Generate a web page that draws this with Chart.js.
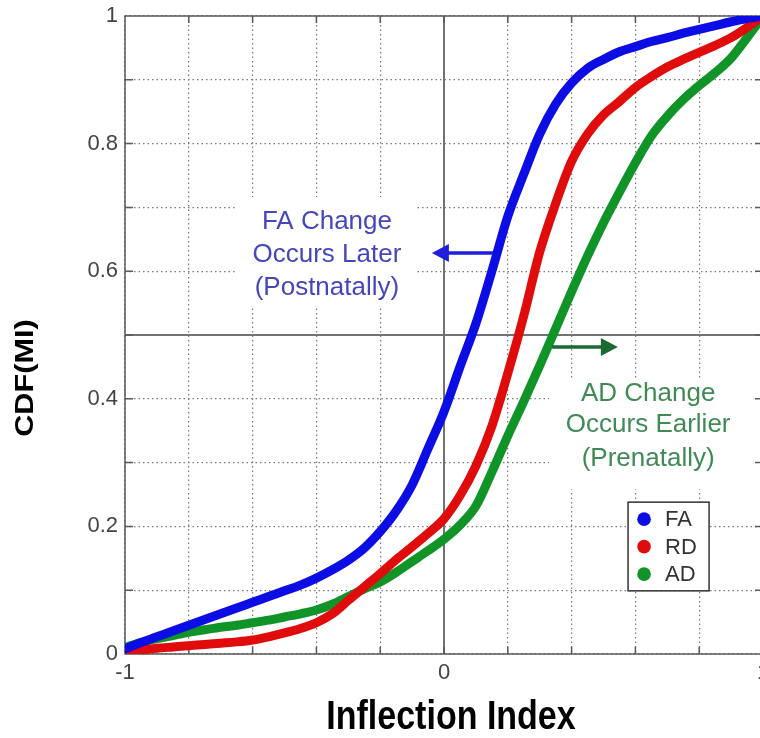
<!DOCTYPE html>
<html><head><meta charset="utf-8">
<script src="https://cdn.jsdelivr.net/npm/chart.js@4.4.1/dist/chart.umd.min.js"></script>
<style>
html,body{margin:0;padding:0;background:#fff;overflow:hidden;width:760px;height:738px}
#wrap{position:relative;width:770px;height:738px}
canvas{display:block}
</style>
</head><body><div id="wrap"><canvas id="c" width="770" height="738"></canvas></div>
<script>
// ---------- data ----------
const inflectionIndex = [-1,-0.95,-0.9,-0.85,-0.8,-0.75,-0.7,-0.65,-0.6,-0.55,-0.5,-0.45,-0.4,-0.35,-0.3,-0.25,-0.2,-0.15,-0.1,-0.05,0,0.05,0.1,0.15,0.2,0.25,0.3,0.35,0.4,0.45,0.5,0.55,0.6,0.65,0.7,0.75,0.8,0.85,0.9,0.95,1];
const cdfFA = [0.008,0.018,0.027,0.036,0.045,0.054,0.063,0.072,0.081,0.090,0.099,0.108,0.119,0.132,0.147,0.166,0.192,0.224,0.265,0.322,0.38,0.45,0.518,0.60,0.686,0.752,0.815,0.862,0.895,0.918,0.932,0.944,0.952,0.960,0.966,0.973,0.979,0.985,0.991,0.996,1.0];
const cdfRD = [0.002,0.006,0.009,0.011,0.013,0.015,0.017,0.019,0.022,0.027,0.033,0.040,0.049,0.063,0.084,0.105,0.126,0.148,0.168,0.189,0.212,0.248,0.295,0.357,0.44,0.53,0.63,0.706,0.772,0.815,0.845,0.866,0.888,0.905,0.92,0.932,0.943,0.954,0.966,0.982,1.0];
const cdfAD = [0.010,0.018,0.024,0.029,0.034,0.038,0.042,0.045,0.049,0.053,0.058,0.063,0.069,0.078,0.090,0.102,0.113,0.128,0.145,0.162,0.180,0.202,0.232,0.285,0.342,0.396,0.452,0.51,0.568,0.624,0.676,0.724,0.77,0.812,0.843,0.869,0.891,0.911,0.934,0.966,1.0];
const seriesLabels = ['FA','RD','AD'];
const xTickLabelValues = [-1,0,1];
const yTickLabelValues = [0,0.2,0.4,0.6,0.8,1];
const xTitle = 'Inflection Index';
const yTitle = 'CDF(MI)';
const faNote = ['FA Change','Occurs Later','(Postnatally)'];
const adNote = ['AD Change','Occurs Earlier','(Prenatally)'];

// ---------- styles ----------
const FONT = "'Liberation Sans', Arimo, Arial, Helvetica, sans-serif";
const colors = ['#0c0ce4','#e00c0c','#109428'];
const DOT = [1.5, 3];
const near = (a,b)=>Math.abs(a-b)<1e-6;

const makeSeries = ys => inflectionIndex.map((x,i)=>({x, y: ys[i]}));

const decor = {
  id: 'decor',
  beforeDatasetsDraw(chart) {
    const {ctx, chartArea: a, scales: {x, y}} = chart;
    ctx.save();
    ctx.strokeStyle = '#727272'; ctx.lineWidth = 2;
    ctx.beginPath();
    ctx.moveTo(x.getPixelForValue(0), a.top); ctx.lineTo(x.getPixelForValue(0), a.bottom);
    ctx.moveTo(a.left, y.getPixelForValue(0.5)); ctx.lineTo(a.right, y.getPixelForValue(0.5));
    ctx.stroke();
    ctx.fillStyle = '#fff';
    const box = (x0,x1,y0,y1) => {
      const px0 = x.getPixelForValue(x0), px1 = x.getPixelForValue(x1);
      const py0 = y.getPixelForValue(y0), py1 = y.getPixelForValue(y1);
      ctx.fillRect(px0, py0, px1-px0, py1-py0);
    };
    box(-0.65, -0.09, 0.716, 0.545);
    box(0.33, 1.05, 0.43, 0.258);
    ctx.strokeStyle = '#5a5a5a'; ctx.lineWidth = 1.5;
    ctx.strokeRect(a.left, a.top, a.right - a.left, a.bottom - a.top);
    ctx.beginPath();
    for (let v = 0.1; v < 0.95; v += 0.1) {
      const py = y.getPixelForValue(v);
      ctx.moveTo(a.left, py); ctx.lineTo(a.left + 8, py);
      ctx.moveTo(a.right, py); ctx.lineTo(a.right - 8, py);
    }
    for (let v = -0.8; v < 0.9; v += 0.2) {
      const px = x.getPixelForValue(v);
      ctx.moveTo(px, a.bottom); ctx.lineTo(px, a.bottom - 7);
      ctx.moveTo(px, a.top); ctx.lineTo(px, a.top + 7);
    }
    ctx.stroke();
    ctx.font = '26px ' + FONT;
    ctx.textAlign = 'center'; ctx.textBaseline = 'middle';
    ctx.fillStyle = '#4646bc';
    const faY = [0.677, 0.626, 0.574];
    faNote.forEach((t,i)=>ctx.fillText(t, x.getPixelForValue(-0.367), y.getPixelForValue(faY[i])));
    ctx.fillStyle = '#3f8a55';
    const adY = [0.4075, 0.359, 0.306];
    adNote.forEach((t,i)=>ctx.fillText(t, x.getPixelForValue(0.64), y.getPixelForValue(adY[i])));
    ctx.restore();
  },
  afterDatasetsDraw(chart) {
    const {ctx, scales: {x, y}} = chart;
    ctx.save();
    const arrow = (xs, xe, yv, col) => {
      const p0 = x.getPixelForValue(xs), p1 = x.getPixelForValue(xe), py = y.getPixelForValue(yv);
      const dir = Math.sign(p1 - p0);
      ctx.strokeStyle = col; ctx.fillStyle = col; ctx.lineWidth = 3.5;
      ctx.beginPath(); ctx.moveTo(p0, py); ctx.lineTo(p1 - dir*14, py); ctx.stroke();
      ctx.beginPath(); ctx.moveTo(p1, py); ctx.lineTo(p1 - dir*17, py - 9); ctx.lineTo(p1 - dir*17, py + 9); ctx.closePath(); ctx.fill();
    };
    arrow(0.154, -0.038, 0.6285, '#1e1edc');
    arrow(0.339, 0.545, 0.481, '#1b6a34');
    const lx0 = x.getPixelForValue(0.577), lx1 = x.getPixelForValue(0.831);
    const ly0 = y.getPixelForValue(0.238), ly1 = y.getPixelForValue(0.099);
    ctx.fillStyle = '#fff';
    ctx.fillRect(lx0, ly0, lx1 - lx0, ly1 - ly0);
    ctx.strokeStyle = '#333'; ctx.lineWidth = 1.5;
    ctx.strokeRect(lx0, ly0, lx1 - lx0, ly1 - ly0);
    ctx.font = '22px ' + FONT; ctx.textAlign = 'left'; ctx.textBaseline = 'middle';
    chart.data.datasets.forEach((ds, i) => {
      const cy = ly0 + 17 + i * 27.5;
      ctx.fillStyle = ds.borderColor;
      ctx.beginPath(); ctx.arc(lx0 + 16, cy, 6.8, 0, Math.PI*2); ctx.fill();
      ctx.fillStyle = '#333';
      ctx.fillText(ds.label, lx0 + 37, cy + 1);
    });
    ctx.restore();
  },
  afterDraw(chart) {
    const {ctx} = chart;
    ctx.save();
    ctx.fillStyle = '#000';
    ctx.textAlign = 'center'; ctx.textBaseline = 'middle';
    ctx.font = 'bold 26px ' + FONT;
    ctx.translate(26, 378); ctx.rotate(-Math.PI/2); ctx.scale(1.18, 1);
    ctx.fillText(yTitle, 0, 0);
    ctx.restore();
    ctx.save();
    ctx.fillStyle = '#000';
    ctx.textAlign = 'center'; ctx.textBaseline = 'middle';
    ctx.font = 'bold 34px ' + FONT;
    ctx.translate(451, 718); ctx.scale(1, 1.2);
    ctx.fillText(xTitle, 0, 0);
    ctx.restore();
  }
};

new Chart(document.getElementById('c').getContext('2d'), {
  type: 'line',
  data: {
    datasets: seriesLabels.map((lab, i) => ({
      label: lab,
      data: makeSeries([cdfFA, cdfRD, cdfAD][i]),
      borderColor: colors[i],
      backgroundColor: colors[i],
      borderWidth: 9,
      pointRadius: 0,
      cubicInterpolationMode: 'monotone',
      borderCapStyle: 'round',
      borderJoinStyle: 'round',
      fill: false
    }))
  },
  options: {
    responsive: false,
    animation: false,
    devicePixelRatio: 1,
    layout: { padding: { top: 16, right: 7, left: 0, bottom: 0 } },
    plugins: { legend: { display: false }, tooltip: { enabled: false } },
    scales: {
      x: {
        type: 'linear', min: -1, max: 1,
        ticks: {
          stepSize: 0.2, autoSkip: false, maxRotation: 0, padding: 6,
          color: '#444', font: { family: FONT, size: 22 },
          callback: v => { const t = xTickLabelValues.find(q => near(q, v)); return t === undefined ? '' : String(t); }
        },
        grid: { color: '#7a7a7a', lineWidth: 1.2, drawTicks: false },
        border: { display: false, dash: DOT },
        afterFit: s => { s.height = 84; s.paddingLeft = 0; s.paddingRight = 0; }
      },
      y: {
        type: 'linear', min: 0, max: 1,
        ticks: {
          stepSize: 0.1, autoSkip: false, padding: 7,
          color: '#444', font: { family: FONT, size: 22 },
          callback: v => { const t = yTickLabelValues.find(q => near(q, v)); return t === undefined ? '' : String(t); }
        },
        grid: { color: '#7a7a7a', lineWidth: 1.2, drawTicks: false },
        border: { display: false, dash: DOT },
        afterFit: s => { s.width = 125; s.paddingTop = 0; s.paddingBottom = 0; }
      }
    }
  },
  plugins: [decor]
});
</script>
</body></html>
